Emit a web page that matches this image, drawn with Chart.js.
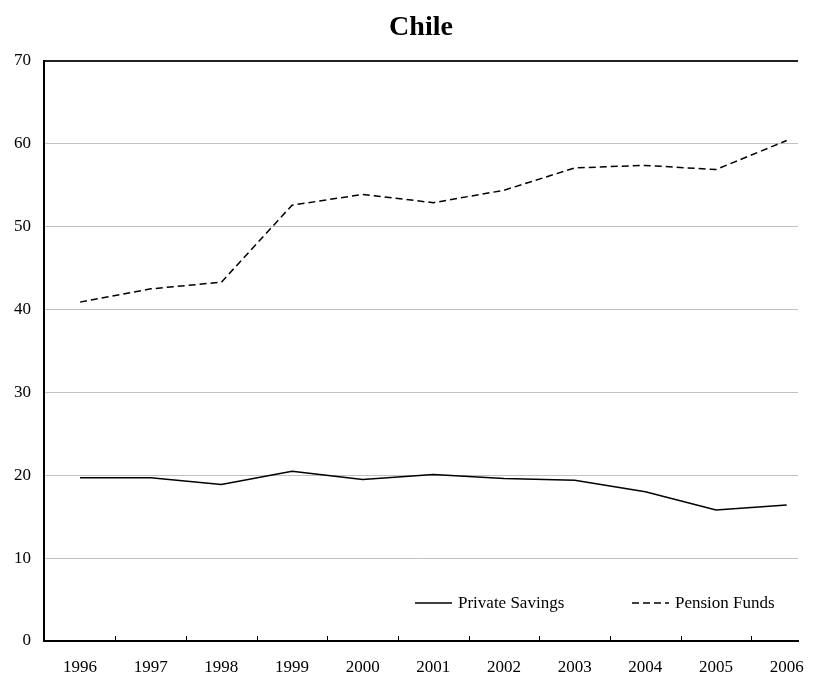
<!DOCTYPE html>
<html>
<head>
<meta charset="utf-8">
<script src="https://cdn.jsdelivr.net/npm/chart.js@4"></script>
<style>
  html, body { margin: 0; padding: 0; background: #fff; }
  #wrap { width: 821px; height: 675px; }
</style>
</head>
<body>
<div id="wrap"><canvas id="chart"></canvas></div>
<script>
const years = ["1996", "1997", "1998", "1999", "2000", "2001", "2002", "2003", "2004", "2005", "2006"];
const privateSavings = [19.7, 19.7, 18.9, 20.5, 19.5, 20.1, 19.6, 19.4, 18.0, 15.8, 16.4];
const pensionFunds = [40.9, 42.5, 43.3, 52.6, 53.9, 52.9, 54.4, 57.1, 57.4, 56.9, 60.4];
const chartTitle = "Chile";

const serif = "'Liberation Serif', 'Times New Roman', serif";

// puntos {x: indice, y: valor} para el eje x lineal
const toPoints = (arr) => arr.map((v, i) => ({ x: i, y: v }));

// titulo centrado sobre el area del grafico
const titlePlugin = {
    id: "centerTitle",
    afterDraw(chart) {
        const { ctx, chartArea } = chart;
        ctx.save();
        ctx.font = "bold 28px " + serif;
        ctx.fillStyle = "#000";
        ctx.textAlign = "center";
        ctx.textBaseline = "middle";
        ctx.fillText(chartTitle, (chartArea.left + chartArea.right) / 2, 28);
        ctx.restore();
    },
};

// marcas del eje x entre categorias, hacia adentro
const tickPlugin = {
    id: "innerTicks",
    afterDraw(chart) {
        const { ctx, chartArea } = chart;
        const x = chart.scales.x;
        ctx.save();
        ctx.strokeStyle = "#000";
        ctx.lineWidth = 1;
        for (let i = 1; i < years.length; i++) {
            const px = Math.round(x.getPixelForValue(i - 0.5)) + 0.5;
            ctx.beginPath();
            ctx.moveTo(px, chartArea.bottom);
            ctx.lineTo(px, chartArea.bottom - 5);
            ctx.stroke();
        }
        ctx.restore();
    },
};

// leyenda dentro del grafico, abajo a la derecha
const legendPlugin = {
    id: "innerLegend",
    afterDraw(chart) {
        const { ctx } = chart;
        const spots = [{ x: 415, y: 603 }, { x: 632, y: 603 }];
        ctx.save();
        ctx.font = "17px " + serif;
        ctx.textBaseline = "middle";
        chart.data.datasets.forEach((ds, i) => {
            const s = spots[i];
            ctx.strokeStyle = ds.borderColor;
            ctx.lineWidth = ds.borderWidth;
            ctx.setLineDash(ds.borderDash || []);
            ctx.beginPath();
            ctx.moveTo(s.x, s.y);
            ctx.lineTo(s.x + 37, s.y);
            ctx.stroke();
            ctx.setLineDash([]);
            ctx.fillStyle = "#000";
            ctx.fillText(ds.label, s.x + 43, s.y + 1);
        });
        ctx.restore();
    },
};

new Chart(document.getElementById("chart"), {
    type: "line",
    plugins: [titlePlugin, tickPlugin, legendPlugin],
    data: {
        datasets: [
            {
                label: "Private Savings",
                data: toPoints(privateSavings),
                borderColor: "#000",
                borderWidth: 1.5,
                pointRadius: 0,
                tension: 0,
            },
            {
                label: "Pension Funds",
                data: toPoints(pensionFunds),
                borderColor: "#000",
                borderWidth: 1.5,
                borderDash: [7, 4],
                pointRadius: 0,
                tension: 0,
            },
        ],
    },
    options: {
        responsive: true,
        maintainAspectRatio: false,
        animation: false,
        layout: { padding: { top: 61, left: 0, right: 23, bottom: 0 } },
        plugins: {
            legend: { display: false },
            title: { display: false },
            tooltip: { enabled: false },
        },
        scales: {
            x: {
                type: "linear",
                min: -0.51,
                max: 10.16,
                afterBuildTicks: (s) => { s.ticks = years.map((_, i) => ({ value: i })); },
                afterFit: (s) => { s.height = 34; },
                grid: { display: false, drawTicks: false },
                border: { color: "#000", width: 2 },
                ticks: {
                    color: "#000",
                    font: { family: serif, size: 17 },
                    padding: 16,
                    maxRotation: 0,
                    autoSkip: false,
                    callback: (v) => years[v],
                },
            },
            y: {
                min: 0,
                max: 70,
                afterFit: (s) => { s.width = 44; },
                grid: {
                    drawTicks: false,
                    color: (c) => (c.tick.value === 70 ? "#222" : c.tick.value === 0 ? "rgba(0,0,0,0)" : "#c0c0c0"),
                    lineWidth: (c) => (c.tick.value === 70 ? 2 : 1),
                },
                border: { color: "#000", width: 2 },
                ticks: { stepSize: 10, color: "#000", font: { family: serif, size: 17 }, padding: 13 },
            },
        },
    },
});
</script>
</body>
</html>
